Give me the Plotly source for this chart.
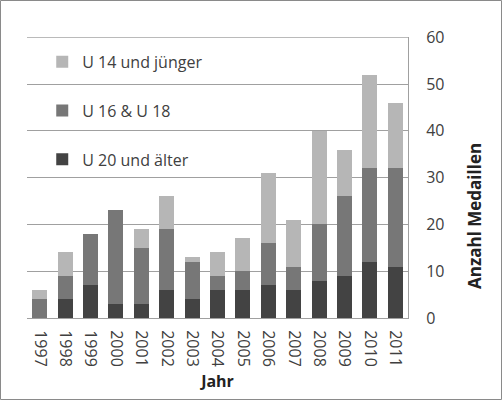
import plotly.graph_objects as go

years = ["1997","1998","1999","2000","2001","2002","2003","2004","2005","2006","2007","2008","2009","2010","2011"]
u20 = [0, 4, 7, 3, 3, 6, 4, 6, 6, 7, 6, 8, 9, 12, 11]
u16 = [4, 5, 11, 20, 12, 13, 8, 3, 4, 9, 5, 12, 17, 20, 21]
u14 = [2, 5, 0, 0, 4, 7, 1, 5, 7, 15, 10, 20, 10, 20, 14]

names = ["U 20 und älter", "U 16 & U 18", "U 14 und jünger"]
colors = ["#434343", "#777777", "#b6b6b6"]
ranks = [3, 2, 1]

W, H = 502, 400
L, R, T, B = 27, 94, 37, 82
pw, ph = W - L - R, H - T - B

fig = go.Figure()
for name, vals, col, rk in zip(names, [u20, u16, u14], colors, ranks):
    fig.add_trace(go.Bar(x=years, y=vals, name=name, marker_color=col,
                         marker_line_width=0, legendgroup=name, legendrank=rk))

font = dict(family="Open Sans, Liberation Sans, sans-serif", size=16, color="#404040")
fig.update_layout(
    width=W, height=H, barmode="stack", bargap=0.41,
    margin=dict(l=L, r=R, t=T, b=B, autoexpand=False),
    paper_bgcolor="white", plot_bgcolor="white",
    font=font,
    legend=dict(x=0.04, y=0.972, xanchor="left", yanchor="top",
                traceorder="grouped", tracegroupgap=25,
                bgcolor="rgba(0,0,0,0)", font=dict(size=16, color="#404040"),
                itemwidth=30),
    xaxis=dict(tickangle=90, showgrid=False, showline=True, linecolor="#a0a0a0",
               ticks="", ticklabelstandoff=8, automargin=False,
               tickfont=dict(size=16),
               title=dict(text="<b>Jahr</b>", standoff=10, font=dict(size=16, color="#222"))),
    yaxis=dict(side="right", range=[0, 60.05], dtick=10, showgrid=True,
               gridcolor="#a0a0a0", gridwidth=1, showline=True, linecolor="#a0a0a0",
               ticks="", ticklabelstandoff=14, zeroline=False, automargin=False,
               tickfont=dict(size=16)),
    annotations=[dict(text="<b>Anzahl Medaillen</b>", textangle=-90, showarrow=False,
                      xref="paper", yref="paper", x=1 + (474 - 408) / pw, y=(318 - 216) / ph,
                      xanchor="center", yanchor="middle",
                      font=dict(size=17, color="#222"))],
    shapes=[dict(type="rect", xref="paper", yref="paper",
                 x0=-(L - 0.5) / pw, x1=1 + (R - 0.5) / pw,
                 y0=-(B - 0.5) / ph, y1=1 + (T - 0.5) / ph,
                 line=dict(color="#8a8a8a", width=1)),
            dict(type="line", xref="paper", yref="y", x0=0, x1=1, y0=60, y1=60,
                 line=dict(color="#a0a0a0", width=1), layer="below")],
)
fig.write_html("out.html", config={"displayModeBar": False},
               post_script="document.body.style.margin='0';")
